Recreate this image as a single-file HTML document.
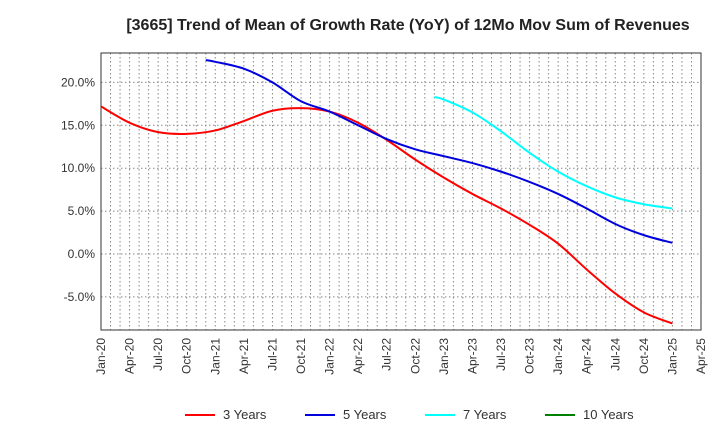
<!DOCTYPE html>
<html><head><meta charset="utf-8"><style>
body{margin:0;background:#fff;font-family:"Liberation Sans",sans-serif}
</style></head><body>
<svg id="c" width="720" height="440" xmlns="http://www.w3.org/2000/svg">
<text x="408" y="30" text-anchor="middle" font-size="16" font-weight="bold" fill="#222">[3665]  Trend of Mean of Growth Rate (YoY) of 12Mo Mov Sum of Revenues</text>
<g id="grid"></g><g id="axes"></g><g id="series"></g><g id="legend"></g>
</svg>
<script>
const xLabels=["Jan-20","Apr-20","Jul-20","Oct-20","Jan-21","Apr-21","Jul-21","Oct-21","Jan-22","Apr-22","Jul-22","Oct-22","Jan-23","Apr-23","Jul-23","Oct-23","Jan-24","Apr-24","Jul-24","Oct-24","Jan-25","Apr-25"];
const yTicks=[-5,0,5,10,15,20];
const s3Months=[0,3,6,9,12,15,18,21,24,27,30,33,36,39,42,45,48,51,54,57,60];
const s3Values=[17.2,15.3,14.2,14.0,14.4,15.5,16.7,17.0,16.6,15.3,13.3,11.0,8.9,7.0,5.3,3.4,1.2,-1.8,-4.6,-6.8,-8.1];
const s5Months=[11,12,15,18,21,24,27,30,33,36,39,42,45,48,51,54,57,60];
const s5Values=[22.6,22.4,21.6,20.0,17.8,16.6,15.0,13.4,12.2,11.4,10.6,9.6,8.4,7.0,5.3,3.5,2.2,1.3];
const s7Months=[35,36,39,42,45,48,51,54,57,60];
const s7Values=[18.3,18.0,16.5,14.3,11.8,9.6,7.9,6.6,5.8,5.3];
const L=101,R=701,T=53,B=330,NS="http://www.w3.org/2000/svg";
const xs=m=>L+(R-L)*m/63;
const ys=v=>254-v*8.58;
function mk(t,a,p){const e=document.createElementNS(NS,t);for(const k in a)e.setAttribute(k,a[k]);p.appendChild(e);return e;}
const grid=document.getElementById('grid'),axes=document.getElementById('axes'),ser=document.getElementById('series'),leg=document.getElementById('legend');
for(let m=1;m<63;m++){const g=mk('line',{x1:xs(m),x2:xs(m),y1:T,y2:B,stroke:'#888','stroke-dasharray':'1.5,2.5','stroke-width':1},grid);

}
yTicks.forEach(v=>{const g=mk('line',{x1:L,x2:R,y1:ys(v),y2:ys(v),stroke:'#888','stroke-dasharray':'1.5,2.5'},grid);


const t=mk('text',{x:L-6,y:ys(v)+4,'text-anchor':'end','font-size':12,fill:'#333'},axes);t.textContent=v.toFixed(1)+'%';

});
xLabels.forEach((lb,i)=>{const x=xs(i*3);const t=mk('text',{transform:`translate(${x+4},${B+8}) rotate(-90)`,'text-anchor':'end','font-size':12,fill:'#333'},axes);t.textContent=lb;

});
const fr=mk('rect',{x:L,y:T,width:R-L,height:B-T,fill:'none',stroke:'#333'},axes);


function path(ms,vs){const p=ms.map((m,i)=>[xs(m),ys(vs[i])]);let d=`M${p[0][0]},${p[0][1]}`;
for(let i=0;i<p.length-1;i++){const p0=p[i-1]||p[i],p1=p[i],p2=p[i+1],p3=p[i+2]||p2;
d+=` C${p1[0]+(p2[0]-p0[0])/6},${p1[1]+(p2[1]-p0[1])/6} ${p2[0]-(p3[0]-p1[0])/6},${p2[1]-(p3[1]-p1[1])/6} ${p2[0]},${p2[1]}`;}return d;}
[[s3Months,s3Values,'#ff0000','series-3-years'],[s5Months,s5Values,'#0000dd','series-5-years'],[s7Months,s7Values,'#00ffff','series-7-years']].forEach(s=>{
const e=mk('path',{d:path(s[0],s[1]),fill:'none',stroke:s[2],'stroke-width':2},ser);

});
[['3 Years','#ff0000',185],['5 Years','#0000dd',305],['7 Years','#00ffff',425],['10 Years','#008000',545]].forEach(l=>{
const g=mk('g',{},leg);


mk('line',{x1:l[2],x2:l[2]+30,y1:415,y2:415,stroke:l[1],'stroke-width':2},g);
const t=mk('text',{x:l[2]+38,y:419,'font-size':13,fill:'#333'},g);t.textContent=l[0];});
</script>
</body></html>
